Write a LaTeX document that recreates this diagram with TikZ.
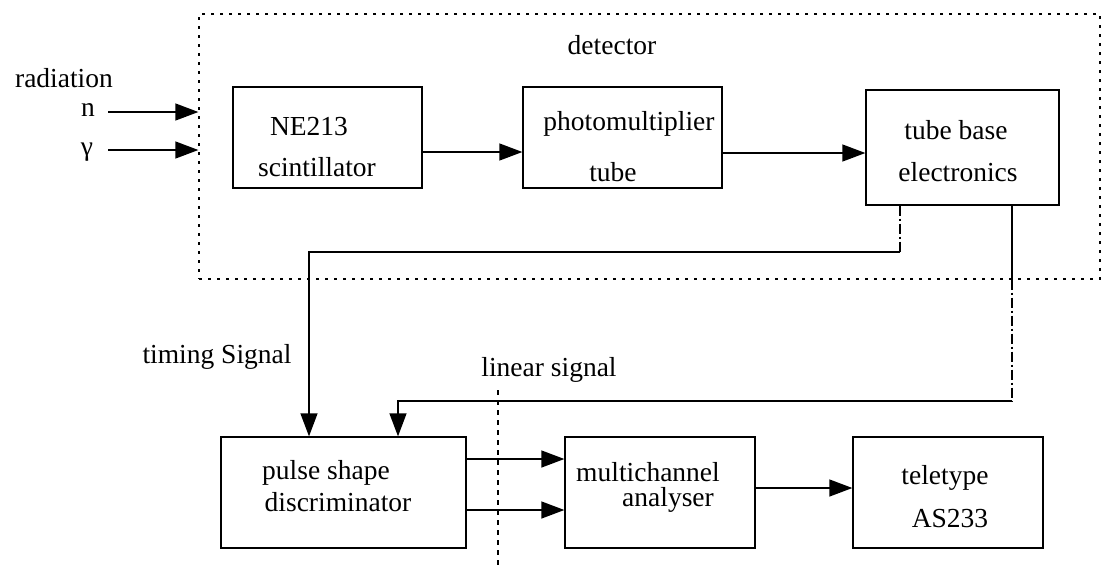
\documentclass[tikz,border=0pt]{standalone}
\usepackage{fontspec}
\setmainfont{Liberation Serif}
\usetikzlibrary{arrows.meta}

\tikzset{
  blockbox/.style={draw, line width=1.3pt, inner sep=0pt, minimum height=111pt},
  txt/.style={inner sep=0pt, font=\fontsize{27.5}{30}\selectfont},
  arr/.style={line width=1.3pt, -{Triangle[length=23pt,width=17pt]}},
  wire/.style={line width=1.3pt},
  dashdot/.style={line width=1.3pt, dash pattern=on 10pt off 3pt on 2pt off 3pt},
  frame/.style={draw, line width=1.3pt, dash pattern=on 3pt off 6pt, inner sep=0pt},
  dotline/.style={line width=1.3pt, dash pattern=on 5pt off 5pt}
}

\begin{document}
\begin{tikzpicture}[x=1pt,y=-1pt]
\useasboundingbox (0,0) rectangle (1102,568);

% detector enclosure
\node[frame, minimum width=901pt, minimum height=265pt] (det) at (649.5,146.5) {};
\node[txt] (detlbl) at (612,45) {detector};

% detector stages
\node[blockbox, minimum width=189pt, minimum height=101pt] (ne) at (327.5,137.5) {};
\node[blockbox, minimum width=199pt, minimum height=101pt] (pm) at (622.5,137.5) {};
\node[blockbox, minimum width=193pt, minimum height=115pt] (tb) at (962.5,147.5) {};

\node[txt] (ne1) at (309,127) {NE213};
\node[txt] (ne2) at (317,167) {scintillator};
\node[txt] (pm1) at (629,124) {photomultiplier};
\node[txt] (pm2) at (613,172) {tube};
\node[txt] (tb1) at (956,130) {tube base};
\node[txt] (tb2) at (958,172) {electronics};

% processing chain
\node[blockbox, minimum width=245pt] (psd) at (343.5,492.5) {};
\node[blockbox, minimum width=190pt] (mca) at (660,492.5) {};
\node[blockbox, minimum width=190pt] (tt) at (948,492.5) {};

\node[txt] (psd1) at (326,473) {pulse shape};
\node[txt] (psd2) at (338,502) {discriminator};
\node[txt] (mca1) at (648,472) {multichannel};
\node[txt] (mca2) at (668,500) {analyser};
\node[txt] (tt1) at (945,478) {teletype};
\node[txt] (tt2) at (950,519) {AS233};

% incoming radiation
\node[txt] (rad) at (64,78) {radiation};
\node[txt] (nlbl) at (88,110) {n};
\node[txt] (glbl) at (87,152) {γ};
\coordinate (nstart) at (108,112);
\coordinate (gstart) at (108,150);
\draw[arr] (nstart) -- (det.west |- nstart);
\draw[arr] (gstart) -- (det.west |- gstart);

% detector chain
\draw[arr] (ne.east |- 0,152) -- (pm.west |- 0,152);
\draw[arr] (pm.east |- 0,153) -- (tb.west |- 0,153);

% timing signal
\coordinate (t1) at (900,252);
\coordinate (t2) at (309,252);
\draw[dashdot] (tb.south -| t1) -- (t1);
\draw[arr] (t1) -- (t2) -- (psd.north -| t2);
\node[txt] (tlbl) at (217,357) {timing Signal};

% linear signal
\coordinate (l1) at (1012,401);
\coordinate (l2) at (398,401);
\draw[wire] (tb.south -| l1) -- (det.south -| l1);
\draw[dashdot] (det.south -| l1) -- (l1);
\draw[arr] (l1) -- (l2) -- (psd.north -| l2);
\node[txt] (llbl) at (549,370) {linear signal};

% analysis chain
\draw[arr] (psd.east |- 0,459) -- (mca.west |- 0,459);
\draw[arr] (psd.east |- 0,510) -- (mca.west |- 0,510);
\draw[arr] (mca.east |- 0,488) -- (tt.west |- 0,488);

% separation line
\coordinate (v1) at (498,390);
\coordinate (v2) at (498,568);
\draw[dotline] (v1) -- (v2);
\end{tikzpicture}
\end{document}
